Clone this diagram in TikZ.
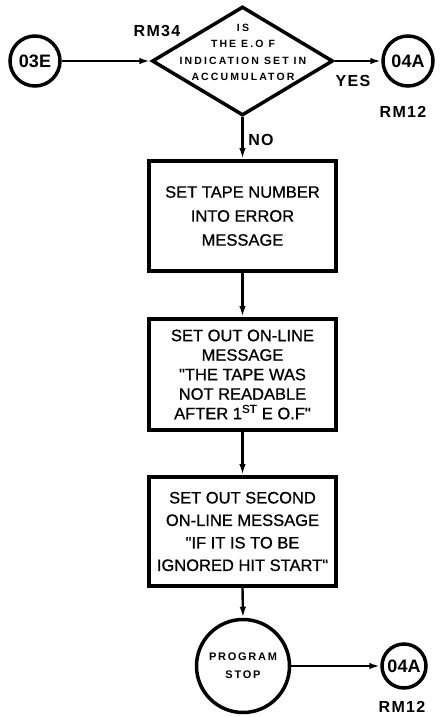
\documentclass[tikz,border=0pt]{standalone}
\usepackage{fontspec}
\setmainfont{Liberation Sans}[Ligatures=TeXOff]
\usetikzlibrary{arrows.meta,shapes.geometric}

\begin{document}
\begin{tikzpicture}[x=1pt,y=-1pt,
  conn/.style={line width=2.4pt,-{Latex[length=11pt,width=6.5pt]}},
  proc/.style={draw,line width=4pt,minimum width=187pt,inner sep=0pt,align=center,
    font=\fontsize{16.5}{21}\selectfont\addfontfeature{FakeBold=0.8}},
  term/.style={draw,circle,line width=3.5pt,inner sep=0pt,minimum size=50pt,
    font=\bfseries\fontsize{18}{18}\selectfont},
  lbl/.style={inner sep=0pt,font=\bfseries\fontsize{16}{16}\selectfont\addfontfeature{LetterSpace=8}},
  decision/.style={draw,diamond,line width=3.5pt,minimum width=181pt,minimum height=109pt,inner sep=0pt},
  small/.style={inner sep=0pt,align=center,
    font=\bfseries\fontsize{10.5}{16.5}\selectfont\addfontfeature{LetterSpace=20}}
]
\useasboundingbox (0,0) rectangle (439,717);

% entry connector and the end-of-file test
\node[term] (start) at (35,61) {03E};
\node[decision] (q) at (242.5,61) {};
\node[small] (qtext) at (243,52.5) {IS\\THE E.O F\\INDICATION SET IN\\ACCUMULATOR};
\node[term] (yes) at (408,61) {04A};

\node[lbl] (rm34) at (157,31) {RM34};
\node[lbl] (yeslbl) at (353,81) {YES};
\node[lbl] (rm12a) at (403,112) {RM12};
\node[lbl] (nolbl) at (261,140) {NO};

% processing steps
\node[proc,minimum height=110pt] (b1) at (242.5,216)
  {SET TAPE NUMBER\\[3pt]INTO ERROR\\[3pt]MESSAGE};
\node[proc,minimum height=111pt,font=\fontsize{16.5}{19.5}\selectfont\addfontfeature{FakeBold=0.8}] (b2) at (242.5,374.5)
  {SET OUT ON-LINE\\MESSAGE\\"THE TAPE WAS\\NOT READABLE\\AFTER 1\textsuperscript{ST} E O.F"};
\node[proc,minimum height=109pt,font=\fontsize{16.5}{22.5}\selectfont\addfontfeature{FakeBold=0.8}] (b3) at (242.5,531.5)
  {SET OUT SECOND\\ON-LINE MESSAGE\\"IF IT IS TO BE\\IGNORED HIT START"};

% program stop and exit connector
\node[draw,circle,line width=3.5pt,minimum size=93pt,inner sep=0pt,align=center,
  font=\bfseries\fontsize{11}{18}\selectfont\addfontfeature{LetterSpace=16}] (stop) at (243,666)
  {PROGRAM\\STOP};
\node[term,minimum size=44pt] (exit) at (404,666) {04A};
\node[lbl] (rm12b) at (402,707) {RM12};

% flow lines
\draw[conn] (start) -- (q.west);
\draw[conn] (q.east) -- (yes);
\draw[conn] (q.south) -- (b1.north);
\draw[conn] (b1.south) -- (b2.north);
\draw[conn] (b2.south) -- (b3.north);
\draw[conn] (b3.south) -- (stop.north);
\draw[conn] (stop.east) -- (exit.west);
\end{tikzpicture}
\end{document}
